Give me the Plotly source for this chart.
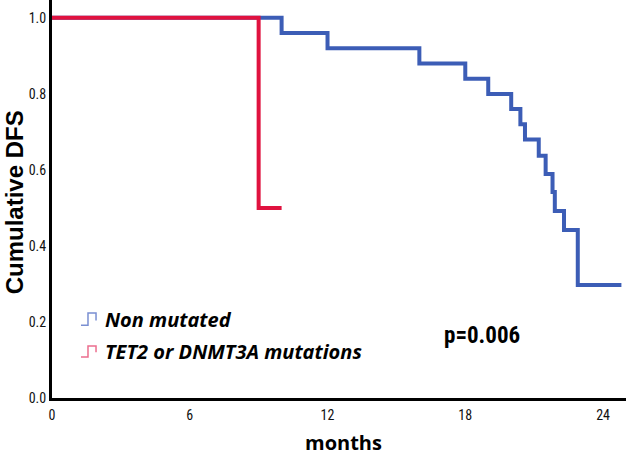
import plotly.graph_objects as go

# Kaplan-Meier style step data
months_non_mutated = [0, 10, 12, 16, 18, 19, 20, 20.4, 20.6, 21.2, 21.5, 21.8, 21.9, 22.3, 22.9, 24.8]
dfs_non_mutated = [1.0, 0.96, 0.92, 0.88, 0.84, 0.80, 0.76, 0.72, 0.68, 0.637, 0.589, 0.542, 0.492, 0.442, 0.297, 0.297]

months_mutated = [0, 9, 10]
dfs_mutated = [1.0, 0.5, 0.5]

x_ticks = [0, 6, 12, 18, 24]
y_ticks = [0.0, 0.2, 0.4, 0.6, 0.8, 1.0]

blue = "#3C5DB6"
red = "#E0123F"

fig = go.Figure()
fig.add_trace(go.Scatter(
    x=months_non_mutated, y=dfs_non_mutated,
    mode="lines", line=dict(color=blue, width=4, shape="hv"),
    name="Non mutated"
))
fig.add_trace(go.Scatter(
    x=months_mutated, y=dfs_mutated,
    mode="lines", line=dict(color=red, width=4, shape="hv"),
    name="TET2 or DNMT3A mutations"
))

tick_font = dict(family="Liberation Sans Narrow, Roboto Condensed, Liberation Sans, Arial", size=14, color="#111")

fig.update_layout(
    width=632, height=459,
    margin=dict(l=52, r=6, t=0, b=61),
    paper_bgcolor="white", plot_bgcolor="white",
    showlegend=False,
    xaxis=dict(
        range=[0, 25], tickvals=x_ticks, ticktext=[str(t) for t in x_ticks],
        showgrid=False, zeroline=False, showline=True, linecolor="black", linewidth=3,
        ticks="", tickfont=tick_font, ticklabelstandoff=2
    ),
    yaxis=dict(
        range=[0, 1.047], tickvals=y_ticks, ticktext=["%.1f" % t for t in y_ticks],
        showgrid=False, zeroline=False, showline=True, linecolor="black", linewidth=3,
        ticks="", tickfont=tick_font
    ),
)

# axis titles
fig.add_annotation(xref="paper", yref="paper", x=-0.066, y=0.492, text="<b>Cumulative DFS</b>",
                   textangle=-90, showarrow=False, xanchor="center", yanchor="middle",
                   font=dict(family="Liberation Sans, Arial", size=24, color="black"))
fig.add_annotation(xref="paper", yref="paper", x=0.507, y=-0.112, text="<b>months</b>",
                   showarrow=False, xanchor="center", yanchor="middle",
                   font=dict(family="Open Sans, Arial", size=20, color="black"))

# legend drawn by hand: step glyph + bold italic label
legend_rows = [("Non mutated", "#7A8FD2", 0.183, 0.2136, 0.196),
               ("TET2 or DNMT3A mutations", "#EC6E8E", 0.103, 0.1307, 0.1156)]
for label, col, ylo, yhi, ytxt in legend_rows:
    fig.add_shape(type="path", xref="paper", yref="paper",
                  path="M 0.0505 %f L 0.0627 %f L 0.0627 %f L 0.0767 %f L 0.0767 %f" % (ylo, ylo, yhi, yhi, ylo + 0.012),
                  line=dict(color=col, width=1.5))
    fig.add_annotation(xref="paper", yref="paper", x=0.0889, y=ytxt, xanchor="left", yanchor="middle",
                       text="<b><i>%s</i></b>" % label, showarrow=False,
                       font=dict(family="Open Sans, Arial", size=20, color="black"))

fig.add_annotation(xref="paper", yref="paper", x=0.749, y=0.156, text="<b>p=0.006</b>",
                   showarrow=False, xanchor="center", yanchor="middle",
                   font=dict(family="Liberation Sans Narrow, Roboto Condensed, Liberation Sans", size=23, color="black"))

fig.write_html("out.html", config={"displayModeBar": False},
               post_script="document.body.style.margin='0';")
